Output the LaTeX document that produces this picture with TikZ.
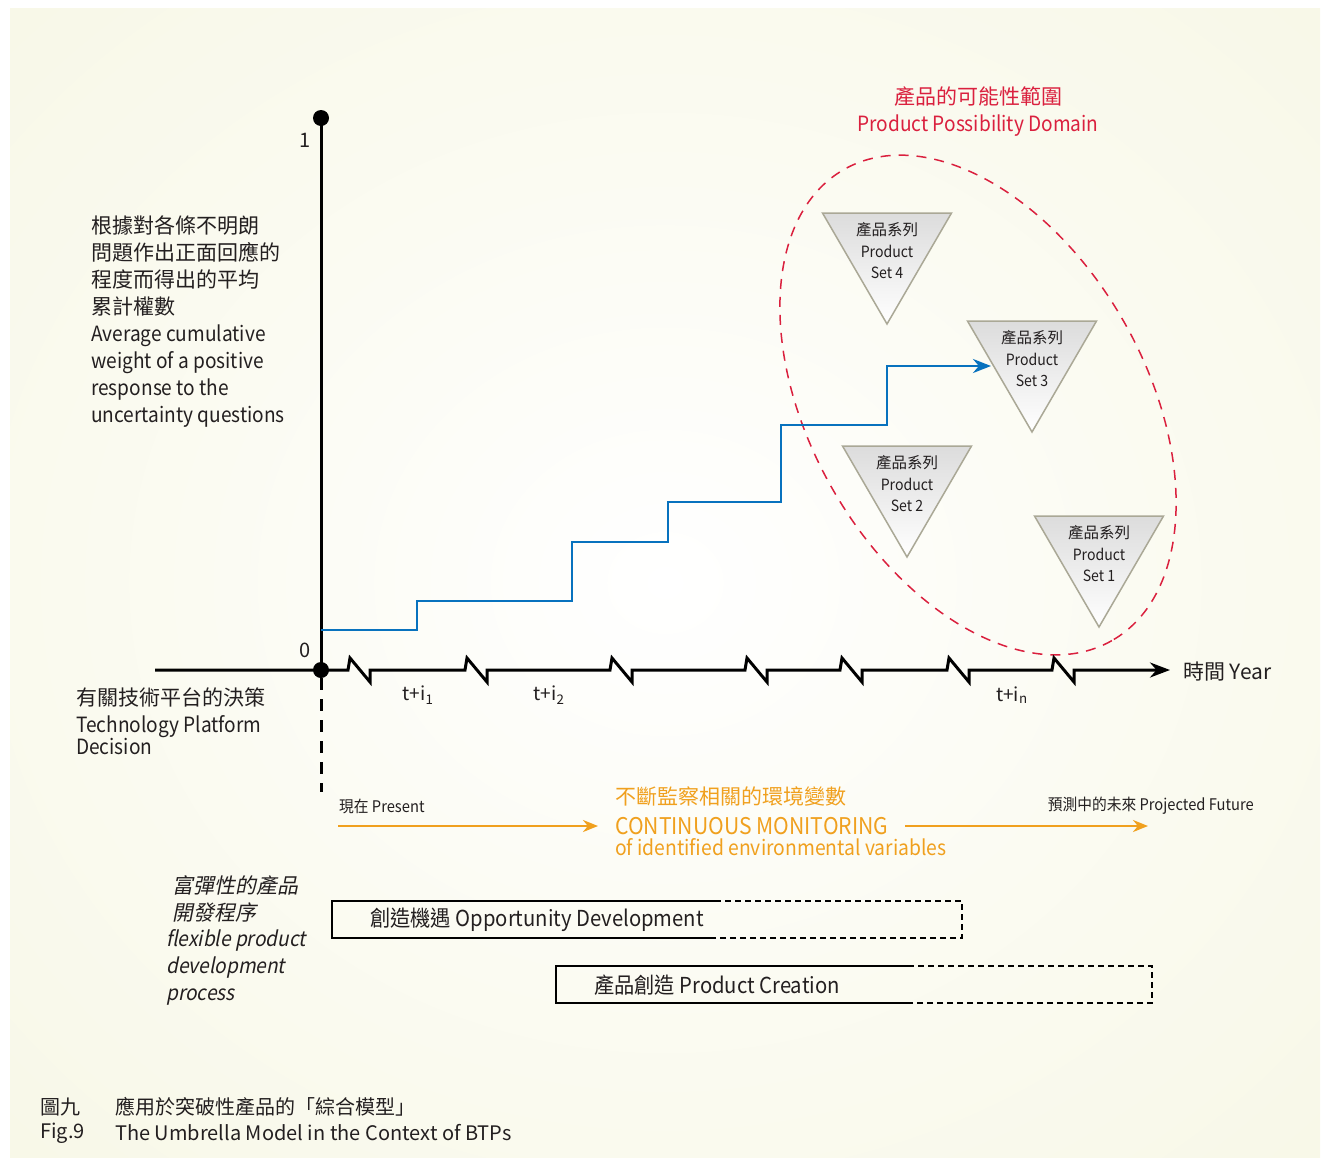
\documentclass[tikz,border=0pt]{standalone}
\usepackage{fontspec}
\setmainfont{Noto Sans CJK TC}
\newfontfamily\condf[FakeStretch=0.92]{Noto Sans CJK TC}
\newfontfamily\enf[FakeStretch=0.91]{Noto Sans CJK TC}
\newfontfamily\slantf[FakeSlant=0.2]{Noto Sans CJK TC}
\newfontfamily\slantenf[FakeSlant=0.2,FakeStretch=0.91]{Noto Sans CJK TC}
\usetikzlibrary{arrows.meta}
\definecolor{txt}{RGB}{35,31,32}
\definecolor{redc}{RGB}{218,32,62}
\definecolor{bluec}{RGB}{8,114,190}
\definecolor{orangec}{RGB}{240,160,30}
\definecolor{bgc}{RGB}{246,246,226}
\definecolor{trib}{RGB}{170,168,150}
\definecolor{trit}{RGB}{220,220,220}
\colorlet{bgmid}{white!55!bgc}
\pgfdeclareradialshading{bgshade}{\pgfpoint{0bp}{0bp}}{color(0bp)=(white); color(18bp)=(bgmid); color(45bp)=(bgc); color(80bp)=(bgc)}
\tikzset{
  axisline/.style={line width=3pt, black},
  dotn/.style={circle, fill=black, minimum size=16pt, inner sep=0pt},
  steparrow/.style={line width=2.8pt, bluec, -{Stealth[length=18pt,width=14pt]}},
  orarrow/.style={line width=2.5pt, orangec, -{Stealth[length=15pt,width=12pt]}},
  tritext/.style={align=center, font=\fontsize{15.5}{21.5}\selectfont, inner sep=0pt},
  boxsolid/.style={line width=1.6pt, black},
  boxdash/.style={line width=1.6pt, black, dash pattern=on 6pt off 4pt},
  lbl/.style={inner sep=0pt, text=txt},
}
\newcommand\prodtri[4]{%
  \shade[top color=trit, bottom color=white, draw=trib, line width=1.5pt]
    (#2-64.5,#3) -- (#2+64.5,#3) -- (#2,#3+111) -- cycle;
  \node[tritext, text=txt] (#1) at (#2,#3+38) {產品系列\\{\enf Product}\\{\enf Set #4}};
}
\begin{document}
\begin{tikzpicture}[x=1pt,y=-1pt, font=\fontsize{20}{24}\selectfont]
\useasboundingbox (0,0) rectangle (1322,1157);
\fill[white] (0,0) rectangle (1322,1157);
\shade[shading=bgshade] (10,8) rectangle (1320,1157);

% product possibility domain
\draw[redc, line width=1.5pt, dash pattern=on 10pt off 8pt, rotate around={-60.4:(978,405)}]
  (978,405) ellipse [x radius=271, y radius=168];
\node[lbl, text=redc, align=center, font=\fontsize{21}{27}\selectfont] (dom) at (978,111.5)
  {產品的可能性範圍\\{\enf Product Possibility Domain}};

% triangles
\prodtri{ps4}{887}{213}{4}
\prodtri{ps3}{1032}{321}{3}
\prodtri{ps2}{907}{446}{2}
\prodtri{ps1}{1099}{516}{1}

% axes
\node[dotn] (top) at (321,118) {};
\node[dotn] (orig) at (321,670) {};
\draw[axisline] (orig.center) -- (top.center);
\coordinate (xstart) at (155,670);
\coordinate (xend) at (1170,670);
\draw[axisline, -{Stealth[length=20pt,width=15pt]}] (xstart)
  foreach \zx in {348,465,610,745,840,947,1052} { -- (\zx,670) -- ++(2,-12) -- ++(20,24) -- ++(0,-12) }
  -- (xend);
\coordinate (dend) at (321,792);
\draw[line width=3pt, dash pattern=on 12pt off 9pt] (orig.south) -- (dend);
\node[lbl] (one) at (305,140) {1};
\node[lbl] (zero) at (305,650) {0};
\node[lbl, font=\fontsize{19}{22}\selectfont] (t1) at (418,695) {t+i\textsubscript{1}};
\node[lbl, font=\fontsize{19}{22}\selectfont] (t2) at (549,695) {t+i\textsubscript{2}};
\node[lbl, font=\fontsize{19}{22}\selectfont] (tn) at (1012,695) {t+i\textsubscript{n}};
\node[lbl, anchor=west, font=\fontsize{21}{24}\selectfont] (year) at (1183,672) {時間 Year};

% step line
\coordinate (b0) at (321,630);
\coordinate (tip) at (991,366);
\draw[steparrow] (b0) -| (417,601) -| (572,542) -| (668,502) -| (781,425) -| (887,366) -- (tip);

% left texts
\node[lbl, anchor=west, align=left, font=\fontsize{21}{27}\selectfont] (ylab) at (91,322)
  {根據對各條不明朗\\問題作出正面回應的\\程度而得出的平均\\累計權數\\{\enf Average cumulative}\\{\enf weight of a positive}\\{\enf response to the}\\{\enf uncertainty questions}};
\node[lbl, anchor=west, font=\fontsize{21}{24}\selectfont] (tpdc) at (76,697) {有關技術平台的決策};
\node[lbl, anchor=west, align=left, font=\enf\fontsize{21}{21}\selectfont] (tpde) at (76,735) {Technology Platform\\Decision};

% monitoring row
\node[lbl, anchor=west, font=\condf\fontsize{16}{18}\selectfont] (present) at (339,806) {現在 Present};
\node[lbl, anchor=east, font=\condf\fontsize{16}{18}\selectfont] (future) at (1254,806) {預測中的未來 Projected Future};
\node[lbl, anchor=west, text=orangec, font=\fontsize{21}{24}\selectfont] (moncjk) at (615,797) {不斷監察相關的環境變數};
\node[lbl, anchor=west, text=orangec, font=\condf\fontsize{23}{26}\selectfont] (cont) at (615,826) {CONTINUOUS MONITORING};
\node[lbl, anchor=west, text=orangec, font=\condf\fontsize{21}{24}\selectfont] (ofid) at (615,847) {of identified environmental variables};
\coordinate (a1s) at (338,826);
\coordinate (a1e) at (598,826);
\coordinate (a2s) at (905,826);
\coordinate (a2e) at (1148,826);
\draw[orarrow] (a1s) -- (a1e);
\draw[orarrow] (a2s) -- (a2e);

% flexible process
\node[lbl, anchor=west, align=left, font=\slantf\fontsize{21}{27}\selectfont] (flexc) at (172,898.5) {富彈性的產品\\開發程序};
\node[lbl, anchor=west, align=left, font=\slantenf\fontsize{21}{27}\selectfont] (flexe) at (166,967.5) {flexible product\\development\\process};

% boxes
\draw[boxsolid] (715,901) -- (332,901) -- (332,938) -- (715,938);
\draw[boxdash] (715,901) -- (962,901) -- (962,938) -- (715,938);
\node[lbl, anchor=west, font=\condf\fontsize{22}{24}\selectfont] (opp) at (370,920) {創造機遇 Opportunity Development};
\draw[boxsolid] (908,966) -- (556,966) -- (556,1003) -- (908,1003);
\draw[boxdash] (908,966) -- (1152,966) -- (1152,1003) -- (908,1003);
\node[lbl, anchor=west, font=\condf\fontsize{22}{24}\selectfont] (pc) at (594,985) {產品創造 Product Creation};

% caption
\node[lbl, anchor=west, font=\fontsize{20}{24}\selectfont] (c1) at (40,1107) {圖九};
\node[lbl, anchor=west, font=\fontsize{20}{24}\selectfont] (c2) at (115,1107) {應用於突破性產品的「綜合模型」};
\node[lbl, anchor=west, font=\fontsize{20}{24}\selectfont] (c3) at (40,1133) {Fig.9};
\node[lbl, anchor=west, font=\fontsize{20}{24}\selectfont] (c4) at (115,1133) {The Umbrella Model in the Context of BTPs};
\end{tikzpicture}
\end{document}
